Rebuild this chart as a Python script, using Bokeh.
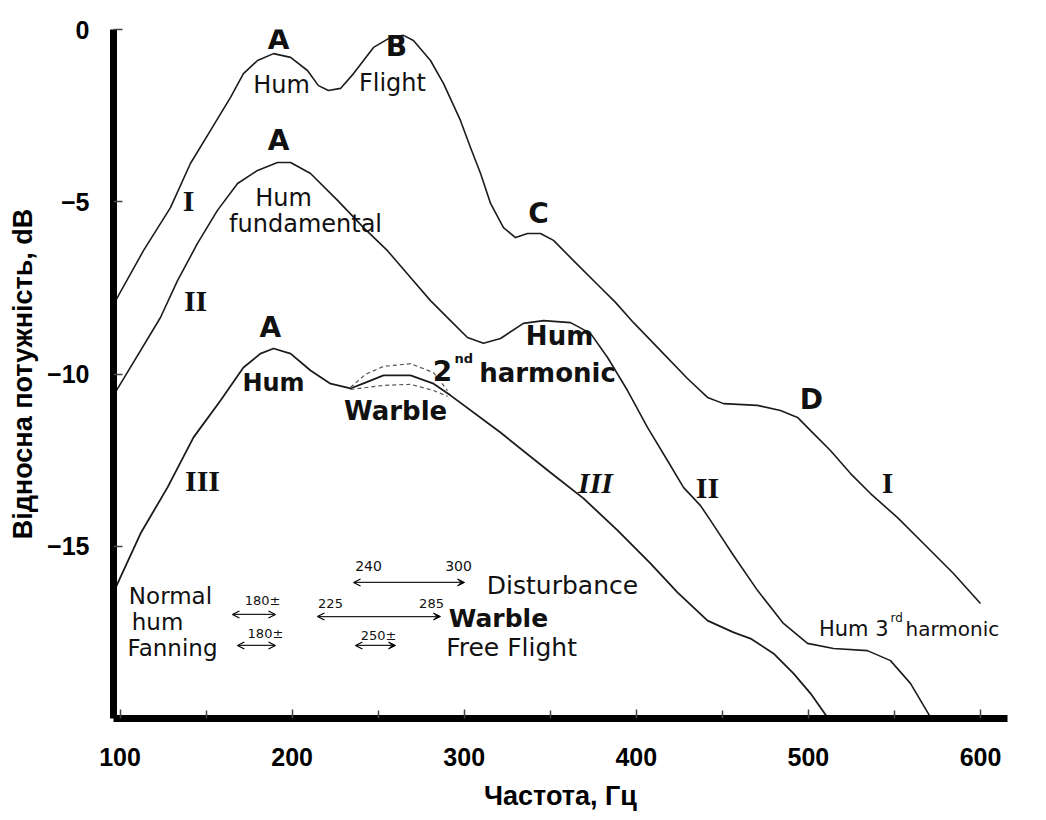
from bokeh.plotting import figure
from bokeh.models import Label, Arrow, OpenHead, VeeHead, FixedTicker, Range1d
from bokeh.embed import file_html
from bokeh.resources import INLINE

# ---------------- data ----------------
freq_I = [96.2, 113.6, 129.3, 140.9, 152.6, 164.2, 171.7, 179.9, 189.2, 199.1, 208.9, 215.3,
          221.1, 228.1, 235.7, 247.3, 257.2, 264.7, 270.5, 280.4, 288.0, 297.8, 303.7, 309.5,
          315.3, 322.8, 329.8, 336.8, 344.3, 351.9, 363.5, 379.2, 387.9, 398.4, 414.1, 429.7,
          441.4, 450.7, 470.4, 483.8, 493.7, 503.0, 512.8, 524.5, 536.1, 551.8, 566.9, 584.3, 600.0]
db_I = [-7.98, -6.42, -5.17, -3.89, -2.93, -1.97, -1.28, -0.90, -0.70, -0.81, -1.19, -1.63,
        -1.77, -1.71, -1.28, -0.52, -0.23, -0.17, -0.32, -0.90, -1.57, -2.64, -3.43, -4.18,
        -5.05, -5.75, -6.04, -5.92, -5.92, -6.12, -6.71, -7.49, -7.92, -8.51, -9.32, -10.13,
        -10.68, -10.86, -10.91, -11.06, -11.26, -11.73, -12.22, -12.89, -13.47, -14.17, -14.92, -15.79, -16.66]

freq_II = [96.2, 123.5, 133.4, 145.0, 156.6, 168.3, 179.9, 191.5, 199.1, 210.7, 226.4, 241.5,
           255.4, 268.8, 280.4, 292.0, 301.9, 311.2, 321.1, 334.4, 346.1, 361.8, 373.4, 383.3,
           394.9, 406.5, 418.1, 427.4, 437.3, 443.1, 456.5, 470.4, 485.5, 499.5, 514.6, 534.3,
           547.7, 559.3, 571.0]
db_II = [-10.62, -8.36, -7.29, -6.21, -5.25, -4.47, -4.09, -3.86, -3.86, -4.18, -4.96, -5.75,
         -6.42, -7.20, -7.87, -8.45, -8.94, -9.11, -8.97, -8.53, -8.45, -8.51, -8.82, -9.52,
         -10.48, -11.55, -12.51, -13.29, -13.82, -14.25, -15.27, -16.28, -17.24, -17.82, -17.97, -18.03,
         -18.32, -18.98, -19.97]

freq_III = [96.2, 111.9, 127.6, 142.7, 158.4, 171.7, 181.6, 189.2, 199.1, 210.7, 222.3, 233.9,
            242.6, 253.1, 268.8, 282.2, 292.0, 321.1, 350.1, 369.3, 389.1, 408.2, 423.9, 441.4,
            456.5, 466.4, 479.7, 491.3, 501.2, 511.1]
db_III = [-16.34, -14.63, -13.29, -11.84, -10.77, -9.81, -9.41, -9.26, -9.41, -9.90, -10.28, -10.42,
          -10.25, -10.04, -10.04, -10.28, -10.62, -11.70, -12.86, -13.61, -14.54, -15.50, -16.34, -17.16,
          -17.50, -17.68, -18.11, -18.69, -19.27, -19.97]

freq_warble_hi = [233.9, 242.6, 253.1, 268.8, 282.2, 290.3]
db_warble_hi = [-10.39, -10.01, -9.78, -9.70, -9.96, -10.48]
freq_warble_lo = [233.9, 253.1, 268.8, 282.2, 290.3]
db_warble_lo = [-10.45, -10.33, -10.30, -10.48, -10.65]

# frequency ranges shown as arrows: (start, end, level dB)
range_normal_hum = (165.3, 190.3, -16.98)
range_fanning = (168.2, 190.3, -17.88)
range_warble = (214.7, 286.2, -17.04)
range_disturbance = (235.7, 300.2, -16.05)
range_free_flight = (236.8, 260.1, -17.88)

x_ticks = [100, 200, 300, 400, 500, 600]
x_minor = [150, 250, 350, 450, 550]
y_ticks = [0, -5, -10, -15]

# ---------------- figure ----------------
p = figure(frame_width=894, frame_height=689,
           x_range=Range1d(96.2, 615.7), y_range=Range1d(-20, 0),
           output_backend="svg", toolbar_location=None,
           min_border_left=113, min_border_right=39, min_border_top=29, min_border_bottom=102,
           background_fill_color="white", border_fill_color="white")
p.outline_line_color = None
p.xgrid.visible = False
p.ygrid.visible = False

for ax in (p.xaxis[0], p.yaxis[0]):
    ax.axis_line_width = 7
    ax.axis_line_color = "black"
    ax.major_tick_in = 9
    ax.major_tick_out = 0
    ax.minor_tick_in = 0
    ax.minor_tick_out = 0
    ax.major_tick_line_color = "#444444"
    ax.major_tick_line_width = 1.5
    ax.major_label_text_font = "Liberation Sans"
    ax.major_label_text_font_style = "bold"
    ax.major_label_text_font_size = "25px"
    ax.major_label_text_color = "black"
    ax.axis_label_text_font = "Liberation Sans"
    ax.axis_label_text_font_style = "bold"
    ax.axis_label_text_font_size = "27px"
    ax.axis_label_text_color = "black"

p.xaxis.ticker = FixedTicker(ticks=x_ticks, minor_ticks=x_minor)
p.xaxis.minor_tick_in = 8
p.xaxis.minor_tick_line_color = "#444444"
p.xaxis.minor_tick_line_width = 1.5
p.xaxis.major_label_standoff = 29
p.xaxis.axis_label = "Частота, Гц"
p.xaxis.axis_label_standoff = 12

p.yaxis.ticker = FixedTicker(ticks=y_ticks)
p.yaxis.major_label_standoff = 24
p.yaxis.axis_label = "Відносна потужність, dB"
p.yaxis.axis_label_standoff = 6

# ---------------- curves ----------------
curve_color = "#1c1c1c"
p.line(freq_I, db_I, line_color=curve_color, line_width=1.6, line_join="round")
p.line(freq_II, db_II, line_color=curve_color, line_width=1.6, line_join="round")
p.line(freq_III, db_III, line_color=curve_color, line_width=1.8, line_join="round")
p.line(freq_warble_hi, db_warble_hi, line_color="#555555", line_width=1.2, line_dash="4 3")
p.line(freq_warble_lo, db_warble_lo, line_color="#555555", line_width=1.2, line_dash="4 3")

# ---------------- arrows ----------------
def add_arrow(r, start_head=True, filled_end=False):
    x0, x1, yv = r
    end = VeeHead(size=7, fill_color="black", line_color="black", line_width=1) if filled_end \
        else OpenHead(size=7, line_color="black", line_width=1.2)
    start = OpenHead(size=7, line_color="black", line_width=1.2) if start_head else None
    p.add_layout(Arrow(x_start=x0, y_start=yv, x_end=x1, y_end=yv, start=start, end=end,
                       line_color="#222222", line_width=1.3))

add_arrow(range_normal_hum)
add_arrow(range_fanning)
add_arrow(range_warble, filled_end=True)
add_arrow(range_disturbance, filled_end=True)
add_arrow(range_free_flight, filled_end=True)

# ---------------- text annotations ----------------
SANS = "DejaVu Sans"
SERIF = "Liberation Serif"

def lab(text, x, y, size, font=SANS, style="normal", align="center", color="#111111"):
    p.add_layout(Label(x=x, y=y, text=text, text_font=font, text_font_size=f"{size}px",
                       text_font_style=style, text_align=align, text_baseline="middle",
                       text_color=color, level="overlay"))

# peak letters
lab("A", 192.1, -0.30, 28, style="bold")
lab("B", 260.6, -0.50, 28, style="bold")
lab("A", 192.1, -3.22, 28, style="bold")
lab("A", 187.4, -8.65, 28, style="bold")
lab("C", 343.2, -5.34, 28, style="bold")
lab("D", 501.8, -10.74, 28, style="bold")

# words
lab("Hum", 193.8, -1.60, 24)
lab("Flight", 258.3, -1.55, 24)
lab("Hum", 195.0, -4.88, 24)
lab("fundamental", 207.8, -5.66, 24)
lab("Hum", 189.2, -10.25, 24, style="bold")
lab("Warble", 260.1, -11.06, 26, style="bold")
lab("2", 287.4, -9.90, 28, style="bold")
lab("nd", 299.8, -9.55, 13, style="bold")
lab("harmonic", 348.4, -9.96, 26, style="bold")
lab("Hum", 355.4, -8.91, 26, style="bold")
lab("Hum 3", 546.6, -17.40, 21, align="right")
lab("rd", 547.7, -17.07, 12, align="left")
lab("harmonic", 556.4, -17.40, 20, align="left")

# roman numerals
lab("I", 139.8, -4.96, 30, font=SERIF, style="bold")
lab("II", 143.9, -7.87, 30, font=SERIF, style="bold")
lab("III", 147.9, -13.09, 30, font=SERIF, style="bold")
lab("III", 376.3, -13.15, 30, font=SERIF, style="bold italic")
lab("II", 441.4, -13.29, 30, font=SERIF, style="bold")
lab("I", 546.0, -13.15, 30, font=SERIF, style="bold")

# lower legend block
lab("Normal", 129.3, -16.43, 23)
lab("hum", 121.8, -17.21, 23)
lab("Fanning", 130.5, -17.94, 23)
lab("180±", 182.8, -16.58, 13)
lab("180±", 184.5, -17.53, 13)
lab("225", 222.3, -16.66, 13)
lab("285", 281.0, -16.66, 13)
lab("240", 244.4, -15.56, 14)
lab("300", 296.7, -15.56, 14)
lab("250±", 250.2, -17.59, 13)
lab("Disturbance", 357.1, -16.14, 25)
lab("Warble", 319.9, -17.10, 25, style="bold")
lab("Free Flight", 327.5, -17.94, 25)

open("out.html", "w").write(file_html(p, INLINE))
